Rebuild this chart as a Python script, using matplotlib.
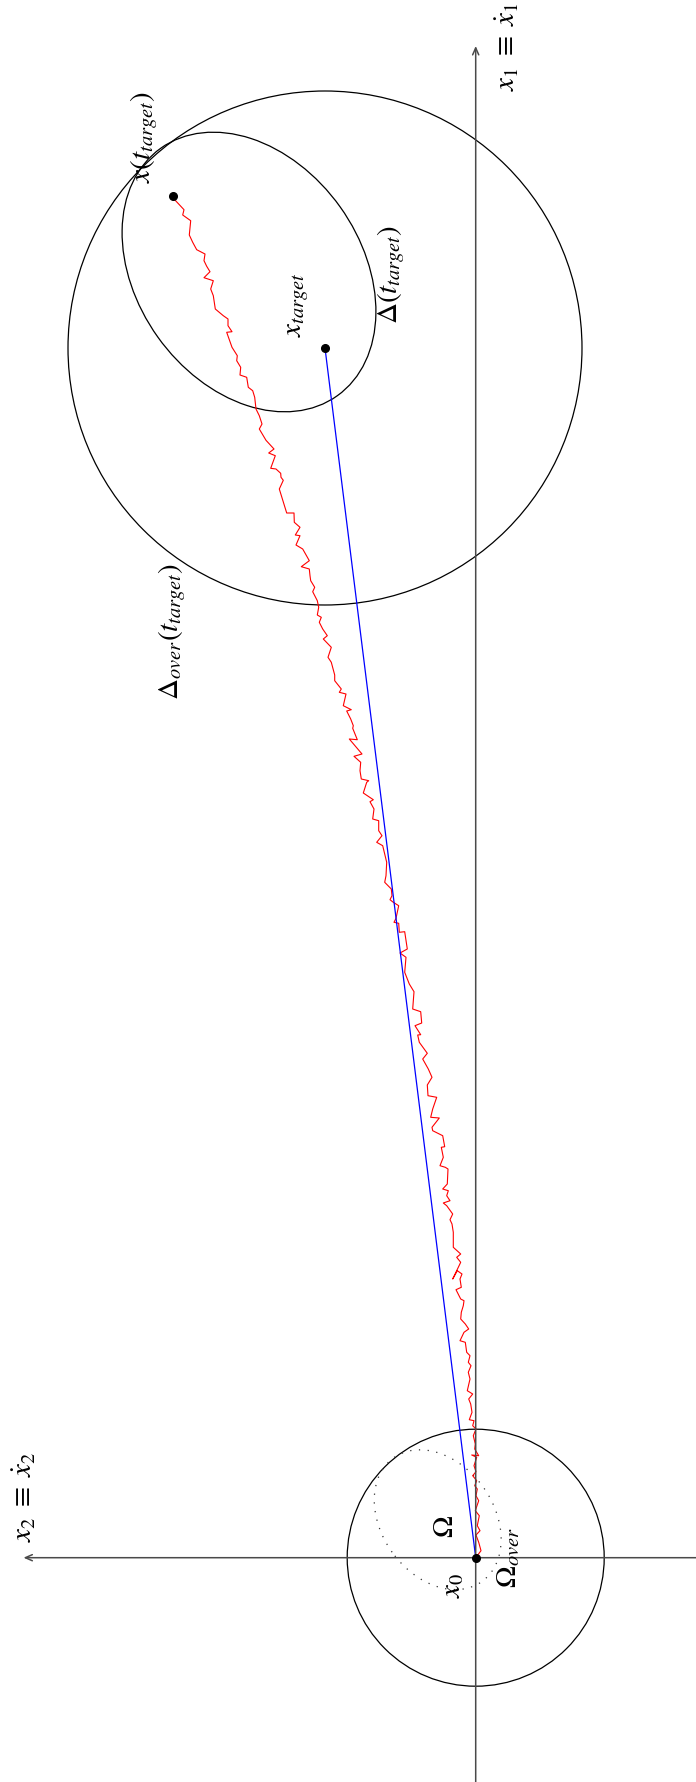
import matplotlib
matplotlib.use("Agg")
import matplotlib.pyplot as plt
from matplotlib.patches import Ellipse, Circle

plt.rcParams["mathtext.fontset"] = "stix"
plt.rcParams["font.family"] = ["STIXGeneral", "DejaVu Serif"]

# State-space coordinates: x2 grows to the left, x1 grows upward.
x0 = (0.0, 0.0)
x_target = (150.7, 1209.7)
x_reached = (302.4, 1361.4)

# Initial set Omega (tilted ellipse) and its over-approximating disc
omega_center = (38.0, 38.0)
omega_width, omega_height, omega_angle = 152.0, 112.0, 54.5
omega_over_radius = 128.5

# Reachable set Delta(t_target) and its over-approximating disc
delta_center = (226.7, 1285.7)
delta_width, delta_height, delta_angle = 304.0, 224.0, 54.5
delta_over_radius = 257.0

# Sampled trajectory x(t) from x0 to x(t_target)
traj_x2 = [0, -5.3, -3.0, -0.3, -4.3, -1.6, -3.6, 0.4, -3.0, -0.3, -1.6, 1.0, -1.0, 3.0,
           -0.3, 1.7, -1.0, 4.0, -3.0, 1.0, 0.4, 2.4, -0.3, 3.0, 1.7, 6.4, 3.7, 5.0, 7.0,
           3.0, 8.4, 5.7, 7.4, 4.7, 7.4, 5.7, 9.0, 10.4, 15.7, 11.7, 7.0, 10.4, 15.0, 14.4,
           12.4, 11.7, 15.0, 19.7, 14.4, 15.7, 13.7, 18.4, 23.0, 15.0, 19.0, 15.0, 22.4,
           22.4, 23.7, 25.7, 23.0, 29.0, 32.4, 25.7, 29.0, 27.4, 33.0, 28.4, 27.7, 30.4,
           35.7, 32.4, 34.4, 31.0, 33.0, 43.0, 43.7, 39.7, 36.4, 45.0, 43.0, 39.0, 47.7,
           48.4, 43.7, 47.4, 53.0, 48.4, 56.4, 58.0, 55.0, 60.7, 54.0, 55.0, 63.0, 61.7,
           66.4, 71.0, 69.7, 75.7, 68.4, 71.0, 76.4, 77.0, 81.7, 79.7, 77.0, 82.4, 85.7,
           83.7, 84.4, 91.0, 89.7, 89.0, 93.0, 99.0, 93.7, 97.0, 97.0, 103.0, 101.7, 105.7,
           102.4, 112.4, 109.0, 107.0, 114.4, 115.7, 115.0, 121.7, 113.7, 126.4, 118.4,
           123.0, 122.4, 125.0, 129.0, 124.4, 132.4, 129.7, 136.4, 134.4, 141.0, 141.0,
           144.4, 147.7, 144.4, 152.4, 148.4, 153.0, 156.4, 154.4, 158.4, 157.0, 158.4,
           163.0, 161.0, 165.0, 165.7, 166.4, 174.4, 166.4, 173.0, 179.7, 175.7, 180.4,
           175.7, 181.4, 181.7, 189.0, 196.4, 192.4, 194.7, 195.0, 199.7, 205.0, 200.4,
           207.0, 201.7, 209.7, 216.4, 213.7, 216.4, 219.7, 221.0, 223.0, 227.4, 229.0,
           235.7, 235.0, 239.0, 238.4, 243.7, 249.0, 243.7, 247.7, 247.7, 252.4, 260.4,
           262.4, 265.0, 262.4, 271.7, 265.7, 269.0, 271.7, 270.7, 279.0, 283.0, 286.4,
           285.0, 293.0, 291.7, 301.7, 302.4]
traj_x1 = [0, 7.0, 15.4, 22.7, 27.0, 32.0, 42.0, 47.0, 57.0, 62.0, 68.7, 72.0, 77.0, 82.0,
           86.0, 92.0, 100.4, 102.7, 102.0, 108.7, 113.7, 122.0, 128.7, 132.0, 137.0, 138.0,
           145.4, 153.7, 158.7, 163.7, 167.0, 178.7, 185.4, 192.0, 195.4, 202.0, 205.4,
           215.4, 217.0, 225.4, 228.7, 233.7, 238.7, 245.4, 252.0, 257.0, 258.7, 268.0,
           270.4, 278.7, 283.7, 287.0, 278.7, 295.4, 300.4, 303.7, 310.4, 325.4, 333.7,
           338.0, 343.7, 352.0, 354.7, 357.0, 362.0, 367.0, 368.7, 373.7, 388.7, 390.4,
           392.0, 400.4, 410.4, 411.0, 422.0, 427.0, 430.4, 435.4, 439.7, 440.4, 448.7,
           460.4, 462.0, 472.7, 480.4, 488.7, 498.7, 504.4, 515.4, 522.7, 523.0, 532.0,
           534.7, 546.0, 548.7, 566.0, 573.7, 585.4, 600.4, 604.7, 608.7, 626.0, 625.4,
           634.4, 635.4, 639.4, 652.0, 655.4, 658.0, 662.0, 668.7, 675.4, 682.0, 695.4,
           712.0, 715.4, 722.0, 727.0, 737.0, 738.7, 748.7, 756.0, 758.0, 764.7, 775.4,
           777.0, 778.7, 787.0, 795.4, 801.4, 803.7, 818.7, 818.0, 829.4, 832.0, 838.7,
           846.7, 848.0, 852.0, 863.7, 865.4, 868.7, 877.0, 882.7, 895.4, 900.4, 910.4,
           918.7, 922.0, 928.7, 935.4, 940.4, 942.7, 950.4, 957.0, 966.0, 970.4, 977.0,
           982.0, 988.7, 991.0, 997.0, 1008.7, 1012.7, 1022.0, 1022.7, 1030.4, 1035.4,
           1044.7, 1044.7, 1068.7, 1077.4, 1080.4, 1084.4, 1088.7, 1089.4, 1102.0, 1104.7,
           1108.7, 1117.4, 1128.7, 1133.7, 1142.0, 1148.7, 1160.4, 1167.0, 1170.4, 1180.4,
           1182.7, 1190.4, 1197.0, 1202.0, 1210.4, 1225.4, 1226.0, 1232.0, 1238.7, 1242.0,
           1248.7, 1262.0, 1268.7, 1277.0, 1280.0, 1286.0, 1291.4, 1297.0, 1303.7, 1308.0,
           1315.4, 1322.7, 1337.0, 1342.7, 1348.0, 1358.7, 1361.4]

# Axis extents (arrow tips)
x1_axis_tip = 1511.7
x2_axis_tip = 452.2

# Labels: (text, x2, x1)
labels = [
    (r"$x_1\;\equiv\;\dot{x}_1$", -31.3, 1511.7),
    (r"$x_2\;\equiv\;\dot{x}_2$", 451.7, 61.7),
    (r"$x\left(t_{target}\right)$", 331.7, 1421.7),
    (r"$\Delta\left(t_{target}\right)$", 84.7, 1284.7),
    (r"$x_{target}$", 177.7, 1253.7),
    (r"$\Delta_{over}\left(t_{target}\right)$", 303.7, 927.7),
    (r"$\Omega$", 29.7, 31.7),
    (r"$x_0$", 21.7, -26.3),
    (r"$\Omega_{over}$", -33.3, 0.7),
]

fig = plt.figure(figsize=(6.96, 17.83), dpi=100)
ax = fig.add_axes([0, 0, 1, 1])
ax.set_xlim(475.7, -220.3)
ax.set_ylim(-224.3, 1558.7)
ax.set_aspect("equal")
ax.axis("off")

axis_color = "#4a4a4a"
arrow = dict(arrowstyle="->,head_length=0.5,head_width=0.22", color=axis_color, lw=1.1,
             shrinkA=0, shrinkB=0)
ax.annotate("", xy=(0, x1_axis_tip), xytext=(0, -224.3), arrowprops=arrow)
ax.annotate("", xy=(x2_axis_tip, 0), xytext=(-220.3, 0), arrowprops=arrow)

ax.add_patch(Circle(x0, omega_over_radius, fill=False, ec="black", lw=0.9))
ax.add_patch(Ellipse(omega_center, omega_width, omega_height, angle=omega_angle,
                     fill=False, ec="#333333", lw=0.9, ls=(0, (1, 6))))
ax.add_patch(Circle(x_target, delta_over_radius, fill=False, ec="black", lw=0.9))
ax.add_patch(Ellipse(delta_center, delta_width, delta_height, angle=delta_angle,
                     fill=False, ec="black", lw=0.9))

ax.plot(traj_x2, traj_x1, color="red", lw=0.8)
ax.plot([x0[0], x_target[0]], [x0[1], x_target[1]], color="blue", lw=0.9)

for p in (x0, x_target, x_reached):
    ax.plot(p[0], p[1], "o", color="black", ms=5.5, zorder=5)

for text, px, py in labels:
    ax.text(px, py, text, rotation=90, ha="center", va="center", fontsize=21)

fig.savefig("out.png", dpi=100)
